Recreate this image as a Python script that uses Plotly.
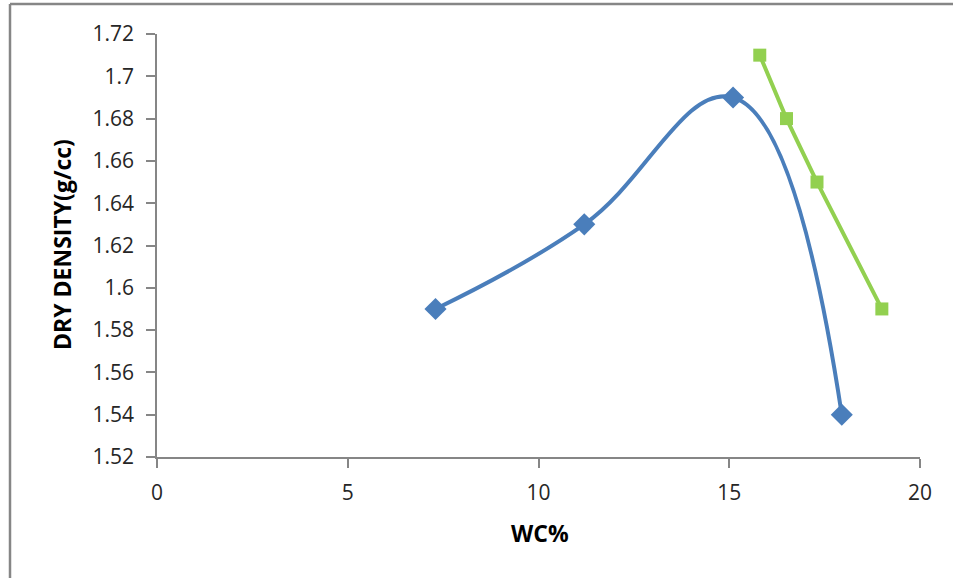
import plotly.graph_objects as go

# Data
blue_wc = [7.3, 11.2, 15.1, 17.95]
blue_dd = [1.59, 1.63, 1.69, 1.54]
green_wc = [15.8, 16.5, 17.3, 19.0]
green_dd = [1.71, 1.68, 1.65, 1.59]
y_ticks = [1.52, 1.54, 1.56, 1.58, 1.6, 1.62, 1.64, 1.66, 1.68, 1.7, 1.72]
y_labels = ["1.52", "1.54", "1.56", "1.58", "1.6", "1.62", "1.64", "1.66", "1.68", "1.7", "1.72"]
x_ticks = [0, 5, 10, 15, 20]

FONT = "Open Sans"
W, H = 953, 578
L, R, T, B = 157, 33, 34, 121
pw, ph = W - L - R, H - T - B

def px2paper_x(px):
    return (px - L) / pw

def px2paper_y(py):
    return (H - B - py) / ph

fig = go.Figure()
fig.add_trace(go.Scatter(
    x=blue_wc, y=blue_dd, mode="lines+markers",
    line=dict(color="#4a7ebb", width=4, shape="spline", smoothing=1.2),
    marker=dict(symbol="diamond", size=17, color="#4a7ebb"),
    showlegend=False,
))
fig.add_trace(go.Scatter(
    x=green_wc, y=green_dd, mode="lines+markers",
    line=dict(color="#92d050", width=4),
    marker=dict(symbol="square", size=13, color="#92d050"),
    showlegend=False,
))

axis_common = dict(showgrid=False, zeroline=False, showline=True,
                   linecolor="#868686", linewidth=1.5,
                   ticks="outside", tickcolor="#868686", ticklen=9, tickwidth=1.5,
                   tickfont=dict(family=FONT, size=21, color="#262626"))

fig.update_xaxes(range=[0, 20], tickvals=x_ticks, ticktext=[str(v) for v in x_ticks],
                 ticklabelstandoff=7, **axis_common)
fig.update_yaxes(range=[1.52, 1.72], tickvals=y_ticks, ticktext=y_labels,
                 ticklabelstandoff=8, **axis_common)

fig.add_annotation(text="<b>WC%</b>", xref="paper", yref="paper",
                   x=px2paper_x(540), y=px2paper_y(533), xanchor="center", yanchor="middle",
                   showarrow=False,
                   font=dict(family=FONT, size=23, color="#000000"))
fig.add_annotation(text="<b>DRY DENSITY(g/cc)</b>", xref="paper", yref="paper",
                   x=px2paper_x(62), y=px2paper_y(245), xanchor="center", yanchor="middle",
                   showarrow=False, textangle=-90,
                   font=dict(family=FONT, size=23, color="#000000"))

# chart border (left and top edges visible)
fig.add_shape(type="line", xref="paper", yref="paper",
              x0=px2paper_x(10), x1=px2paper_x(10), y0=px2paper_y(4), y1=px2paper_y(580),
              line=dict(color="#868686", width=2.5))
fig.add_shape(type="line", xref="paper", yref="paper",
              x0=px2paper_x(10), x1=px2paper_x(960), y0=px2paper_y(4), y1=px2paper_y(4),
              line=dict(color="#868686", width=2.5))

fig.update_layout(width=W, height=H, margin=dict(l=L, r=R, t=T, b=B),
                  paper_bgcolor="white", plot_bgcolor="white")
fig.write_html("out.html", config={"displayModeBar": False},
               post_script="document.body.style.margin='0';document.body.style.overflow='hidden';")
